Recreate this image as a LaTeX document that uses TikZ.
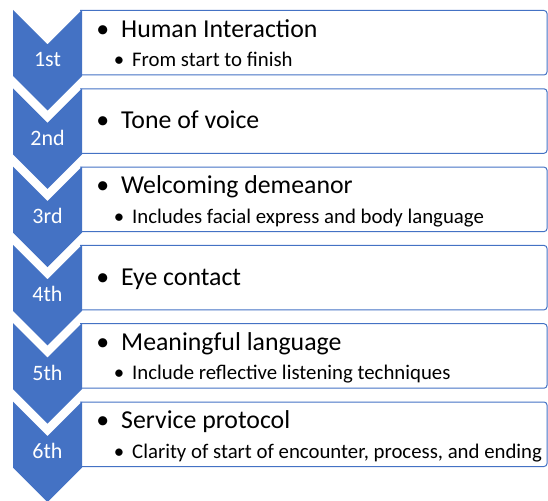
\documentclass[tikz,border=0pt]{standalone}
\usepackage{fontspec}
\setmainfont{Carlito}
\definecolor{rankblue}{HTML}{4472C4}
\tikzset{
 chevron/.style={fill=rankblue, draw=none},
 itembox/.style={draw=rankblue, line width=1pt, rounded corners=3pt},
 rank/.style={text=white, anchor=base, inner sep=0pt, font=\fontsize{22}{22}\selectfont},
 head/.style={anchor=base west, inner sep=0pt, font=\fontsize{25.8}{26}\selectfont},
 sub/.style={anchor=base west, inner sep=0pt, font=\fontsize{20.8}{21}\selectfont},
}
\newcommand{\headbullet}{\llap{\textbullet\hspace{12pt}}}
\newcommand{\subbullet}{\llap{\textbullet\hspace{8pt}}}

\begin{document}
\begin{tikzpicture}[x=1pt,y=-1pt]
\useasboundingbox (0,0) rectangle (548,500);
\foreach \n/\rank/\head/\sub in {
  1/1st/Human Interaction/From start to finish,
  2/2nd/Tone of voice/,
  3/3rd/Welcoming demeanor/Includes facial express and body language,
  4/4th/Eye contact/,
  5/5th/Meaningful language/Include reflective listening techniques,
  {6/6th/Service protocol/Clarity of start of encounter, process, and ending}}
{
  \pgfmathsetmacro\rowtop{10+(\n-1)*78.3}
  % text panel, open on the left
  \draw[itembox] (80,\rowtop+0.5) -- (547,\rowtop+0.5) -- (547,\rowtop+65) -- (80,\rowtop+65);
  % step chevron with its rank
  \fill[chevron] (13,\rowtop) -- (47.5,\rowtop+34.5) -- (82,\rowtop) -- (82,\rowtop+66)
    -- (47.5,\rowtop+100.5) -- (13,\rowtop+66) -- cycle;
  \node[rank] (rank\n) at (47.5,\rowtop+57) {\rank};
  \ifx\sub\empty
    \node[head] (head\n) at (121,\rowtop+40.5) {\headbullet\head};
  \else
    \node[head] (head\n) at (121,\rowtop+27.3) {\headbullet\head};
    \node[sub] (sub\n) at (132,\rowtop+56.5) {\subbullet\sub};
  \fi
}
\end{tikzpicture}
\end{document}
